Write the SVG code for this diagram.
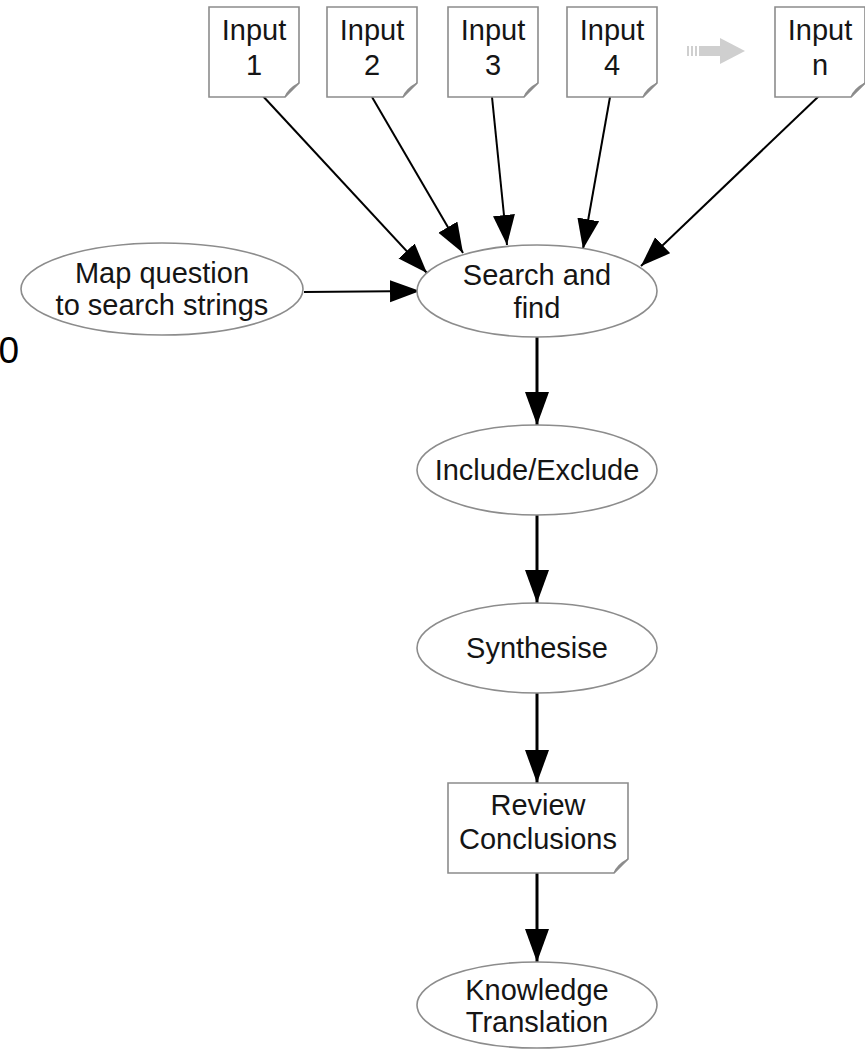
<svg xmlns="http://www.w3.org/2000/svg" width="865" height="1050" viewBox="0 0 865 1050">
<style>
.bg{fill:#ffffff}
.node{fill:#ffffff;stroke:#8c8c8c;stroke-width:1.6}
.fold{fill:#f2f2f2;stroke:#8c8c8c;stroke-width:1.2}
.t{font-family:"Liberation Sans",Arial,sans-serif;font-size:29px;fill:#151515;text-anchor:middle}
.e{stroke:#000;stroke-width:2;fill:none}
.ev{stroke:#000;stroke-width:3;fill:none}
</style>
<defs>
<marker id="ah" markerUnits="userSpaceOnUse" markerWidth="32" markerHeight="24" refX="30" refY="11" orient="auto">
<path d="M0,0 L30,11 L0,22 Z" fill="#000"/>
</marker>
<marker id="ahv" markerUnits="userSpaceOnUse" markerWidth="36" markerHeight="26" refX="33" refY="12" orient="auto">
<path d="M0,0 L33,12 L0,24 Z" fill="#000"/>
</marker>
<path id="doc" d="M0,0 H90 V76 L76,90 H0 Z"/>
</defs>
<rect class="bg" x="0" y="0" width="865" height="1050"/>
<text x="-1.5" y="363" style="font-family:'Liberation Sans',Arial,sans-serif;font-size:37px;fill:#000">0</text>
<g id="connectors">
<line class="e" x1="261" y1="94" x2="427" y2="273" marker-end="url(#ah)"/>
<line class="e" x1="372" y1="97" x2="463" y2="253" marker-end="url(#ah)"/>
<line class="e" x1="492" y1="97" x2="507" y2="245" marker-end="url(#ah)"/>
<line class="e" x1="610" y1="97" x2="583" y2="249" marker-end="url(#ah)"/>
<line class="e" x1="820" y1="95" x2="641" y2="266" marker-end="url(#ah)"/>
<line class="e" x1="304" y1="292" x2="420" y2="291" marker-end="url(#ah)"/>
<line class="ev" x1="537" y1="337" x2="537" y2="425" marker-end="url(#ahv)"/>
<line class="ev" x1="537" y1="515" x2="537" y2="603" marker-end="url(#ahv)"/>
<line class="ev" x1="537" y1="693" x2="537" y2="783" marker-end="url(#ahv)"/>
<line class="ev" x1="537" y1="873" x2="537" y2="962" marker-end="url(#ahv)"/>
</g>
<g id="more-arrow" fill="#cfcfcf">
<rect x="687" y="46" width="2" height="10"/>
<rect x="691" y="46" width="2" height="10"/>
<rect x="695" y="46" width="2" height="10"/>
<rect x="699" y="46" width="23" height="10"/>
<path d="M720,38 L745,51 L720,64 Z"/>
</g>
<g id="input1" transform="translate(209,7)">
<use href="#doc" class="node"/>
<path class="fold" d="M76,90 Q79,82 90,76 Q82,82 76,90 Z"/>
<text class="t" x="45" y="33">Input</text>
<text class="t" x="45" y="68">1</text>
</g>
<g id="input2" transform="translate(327,7)">
<use href="#doc" class="node"/>
<path class="fold" d="M76,90 Q79,82 90,76 Q82,82 76,90 Z"/>
<text class="t" x="45" y="33">Input</text>
<text class="t" x="45" y="68">2</text>
</g>
<g id="input3" transform="translate(448,7)">
<use href="#doc" class="node"/>
<path class="fold" d="M76,90 Q79,82 90,76 Q82,82 76,90 Z"/>
<text class="t" x="45" y="33">Input</text>
<text class="t" x="45" y="68">3</text>
</g>
<g id="input4" transform="translate(567,7)">
<use href="#doc" class="node"/>
<path class="fold" d="M76,90 Q79,82 90,76 Q82,82 76,90 Z"/>
<text class="t" x="45" y="33">Input</text>
<text class="t" x="45" y="68">4</text>
</g>
<g id="inputn" transform="translate(775,7)">
<use href="#doc" class="node"/>
<path class="fold" d="M76,90 Q79,82 90,76 Q82,82 76,90 Z"/>
<text class="t" x="45" y="33">Input</text>
<text class="t" x="45" y="68">n</text>
</g>
<g id="map">
<ellipse class="node" cx="162" cy="289" rx="141" ry="46"/>
<text class="t" x="162" y="283">Map question</text>
<text class="t" x="162" y="315">to search strings</text>
</g>
<g id="search">
<ellipse class="node" cx="537" cy="291" rx="120" ry="46"/>
<text class="t" x="537" y="285">Search and</text>
<text class="t" x="537" y="318">find</text>
</g>
<g id="include">
<ellipse class="node" cx="537" cy="470" rx="120" ry="45"/>
<text class="t" x="537" y="480">Include/Exclude</text>
</g>
<g id="synth">
<ellipse class="node" cx="537" cy="648" rx="120" ry="45"/>
<text class="t" x="537" y="658">Synthesise</text>
</g>
<g id="review" transform="translate(448,783)">
<path class="node" d="M0,0 H180 V76 L166,90 H0 Z"/>
<path class="fold" d="M166,90 Q169,82 180,76 Q172,82 166,90 Z"/>
<text class="t" x="90" y="32">Review</text>
<text class="t" x="90" y="66">Conclusions</text>
</g>
<g id="kt">
<ellipse class="node" cx="537" cy="1005" rx="120" ry="43"/>
<text class="t" x="537" y="1000">Knowledge</text>
<text class="t" x="537" y="1032">Translation</text>
</g>
</svg>
